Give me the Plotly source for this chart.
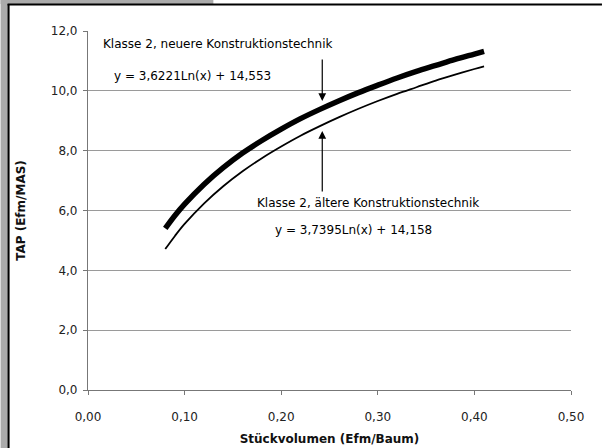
import plotly.graph_objects as go

# Data (trend lines)
x_vals = [0.08, 0.09, 0.10, 0.12, 0.14, 0.16, 0.18, 0.20, 0.22, 0.24, 0.26,
          0.28, 0.30, 0.32, 0.34, 0.36, 0.38, 0.40, 0.41]
neuere = [5.40, 5.83, 6.21, 6.87, 7.43, 7.92, 8.34, 8.72, 9.07, 9.38, 9.67,
          9.94, 10.19, 10.43, 10.65, 10.85, 11.05, 11.23, 11.32]
aeltere = [4.71, 5.15, 5.55, 6.23, 6.81, 7.31, 7.75, 8.14, 8.50, 8.82, 9.12,
           9.40, 9.66, 9.90, 10.12, 10.34, 10.54, 10.73, 10.82]

W, H = 602, 448
L, R, T, B = 87.5, 31, 31, 58
PW, PH = W - L - R, H - T - B

def px(xp):
    return (xp - L) / PW

def py(yp):
    return 1 - (yp - T) / PH

FONT = "DejaVu Sans, Verdana, sans-serif"
FS = 12

fig = go.Figure()
fig.add_trace(go.Scatter(x=x_vals, y=neuere, mode="lines",
                         line=dict(color="black", width=5.5, shape="spline"),
                         showlegend=False, hoverinfo="skip"))
fig.add_trace(go.Scatter(x=x_vals, y=aeltere, mode="lines",
                         line=dict(color="black", width=1.8, shape="spline"),
                         showlegend=False, hoverinfo="skip"))

shapes = [
    dict(type="rect", xref="paper", yref="paper", x0=px(0), x1=px(7.5), y0=py(0), y1=py(H),
         fillcolor="#ababab", line=dict(width=0), layer="below"),
    dict(type="rect", xref="paper", yref="paper", x0=px(0), x1=px(213), y0=py(0), y1=py(4),
         fillcolor="#ababab", line=dict(width=0), layer="below"),
    dict(type="line", xref="paper", yref="paper", x0=px(7), x1=px(W), y0=py(4.5), y1=py(4.5),
         line=dict(color="black", width=2)),
    dict(type="line", xref="paper", yref="paper", x0=px(8), x1=px(8), y0=py(4), y1=py(H),
         line=dict(color="black", width=2)),
]

annotations = [
    dict(x=px(101), y=py(44), xref="paper", yref="paper", xanchor="left", yanchor="middle",
         text="Klasse 2, neuere Konstruktionstechnik", showarrow=False,
         font=dict(family=FONT, size=FS, color="black")),
    dict(x=px(112), y=py(76), xref="paper", yref="paper", xanchor="left", yanchor="middle",
         text="y = 3,6221Ln(x) + 14,553", showarrow=False,
         font=dict(family=FONT, size=FS, color="black")),
    dict(x=px(255), y=py(203), xref="paper", yref="paper", xanchor="left", yanchor="middle",
         text="Klasse 2, ältere Konstruktionstechnik", showarrow=False,
         font=dict(family=FONT, size=FS, color="black")),
    dict(x=px(273), y=py(230), xref="paper", yref="paper", xanchor="left", yanchor="middle",
         text="y = 3,7395Ln(x) + 14,158", showarrow=False,
         font=dict(family=FONT, size=FS, color="black")),
    # arrows
    dict(x=px(322), y=py(101), ax=0, ay=-43, xref="paper", yref="paper",
         text="", showarrow=True, arrowhead=2,
         arrowsize=1.3, arrowwidth=1.2, arrowcolor="black"),
    dict(x=px(322), y=py(131), ax=0, ay=62, xref="paper", yref="paper",
         text="", showarrow=True, arrowhead=2,
         arrowsize=1.3, arrowwidth=1.2, arrowcolor="black"),
]

fig.update_layout(
    width=W, height=H,
    margin=dict(l=L, r=R, t=T, b=B, pad=0, autoexpand=False),
    paper_bgcolor="white", plot_bgcolor="white",
    separators=",.",
    shapes=shapes, annotations=annotations,
    font=dict(family=FONT, size=FS, color="black"),
    xaxis=dict(range=[0, 0.5], tickvals=[0, 0.1, 0.2, 0.3, 0.4, 0.5], tickformat=".2f",
               showgrid=False, zeroline=False, showline=True, linecolor="#777777", linewidth=1.2,
               ticks="outside", ticklen=4, tickcolor="#777777", ticklabelstandoff=11,
               automargin=False,
               tickfont=dict(family=FONT, size=FS, color="#222"),
               title=dict(text="<b>Stückvolumen (Efm/Baum)</b>", standoff=12,
                          font=dict(family=FONT, size=FS, color="#111"))),
    yaxis=dict(range=[0, 12], tickvals=[0, 2, 4, 6, 8, 10, 12], tickformat=".1f",
               showgrid=True, gridcolor="#9a9a9a", gridwidth=1.2, zeroline=False,
               showline=True, linecolor="#777777", linewidth=1.2,
               ticks="outside", ticklen=4, tickcolor="#777777", ticklabelstandoff=3,
               automargin=False,
               tickfont=dict(family=FONT, size=FS, color="#222"),
               title=dict(text="<b>TAP (Efm/MAS)</b>", standoff=22,
                          font=dict(family=FONT, size=FS, color="#111"))),
)

fig.write_html("out.html")
